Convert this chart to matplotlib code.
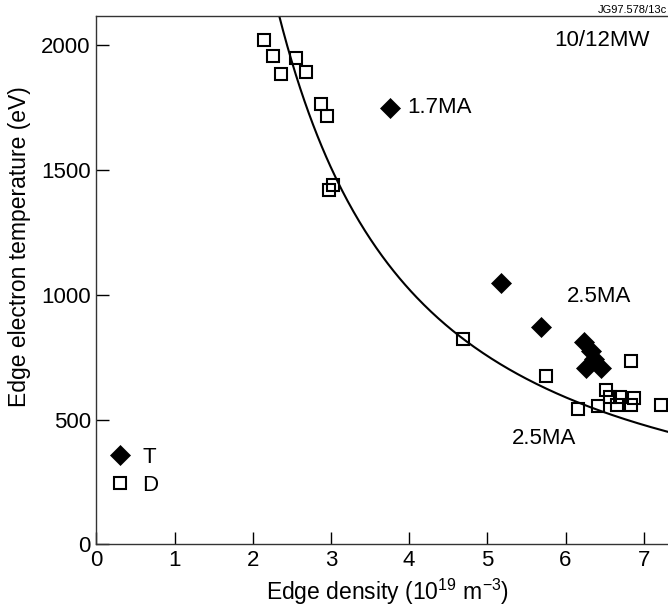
import numpy as np
import matplotlib.pyplot as plt

plt.rcParams["font.family"] = ["Liberation Sans", "DejaVu Sans"]
plt.rcParams["mathtext.fontset"] = "custom"
plt.rcParams["mathtext.rm"] = "Liberation Sans"
plt.rcParams["mathtext.it"] = "Liberation Sans:italic"

# tritium (T) shots: edge density (1e19 m^-3), edge Te (eV)
t_density = [3.75, 5.18, 5.69, 6.23, 6.32, 6.37, 6.26, 6.45]
t_temp = [1750, 1049, 871, 812, 775, 742, 706, 706]

# deuterium (D) shots
d_density = [2.15, 2.26, 2.55, 2.36, 2.68, 2.87, 2.95, 3.03, 2.98,
             4.69, 5.75, 6.84, 6.16, 7.22, 6.52, 6.57, 6.70, 6.87,
             6.41, 6.66, 6.84]
d_temp = [2024, 1956, 1951, 1887, 1894, 1767, 1718, 1439, 1420,
          822, 675, 734, 544, 559, 617, 592, 592, 586,
          556, 558, 558]

# power-law fit Te = a * n^-b
fit_a = 6710.0
fit_b = 1.357

fig = plt.figure(figsize=(6.68, 6.13), dpi=100)
ax = fig.add_axes([0.1442, 0.1119, 0.8558, 0.8615])

n = np.linspace(2.0, 7.5, 300)
ax.plot(n, fit_a * n ** (-fit_b), color="black", lw=1.5, zorder=2)

ax.plot(t_density, t_temp, linestyle="none", marker="D", ms=10,
        mfc="black", mec="black", mew=0.5, label="T", zorder=3)
ax.plot(d_density, d_temp, linestyle="none", marker="s", ms=9,
        mfc="none", mec="black", mew=1.5, label="D", zorder=3)

ax.text(3.97, 1750, "1.7MA", fontsize=16, va="center", ha="left")
ax.text(6.02, 992, "2.5MA", fontsize=16, va="center", ha="left")
ax.text(5.31, 425, "2.5MA", fontsize=16, va="center", ha="left")
ax.text(6.46, 2020, "10/12MW", fontsize=16, va="center", ha="center")

fig.text(0.998, 0.984, "JG97.578/13c", fontsize=8, ha="right", va="center")

ax.set_xlim(0, 7.31)
ax.set_ylim(0, 2117)
ax.set_xticks(range(0, 8))
ax.set_yticks([0, 500, 1000, 1500, 2000])
ax.tick_params(direction="in", length=9, width=1, labelsize=16, pad=4)

ax.spines["right"].set_visible(False)
for side in ("left", "bottom", "top"):
    ax.spines[side].set_linewidth(1.0)
    ax.spines[side].set_color("#333333")

ax.set_xlabel("Edge density (10$^{19}$ m$^{-3}$)", fontsize=16.5, va="center")
ax.set_ylabel("Edge electron temperature (eV)", fontsize=16.5, va="center")
ax.xaxis.set_label_coords(0.510, -0.090)
ax.yaxis.set_label_coords(-0.134, 0.563)

ax.legend(loc="center left", bbox_to_anchor=(0.022, 0.138), frameon=False,
          fontsize=16, handlelength=1.0, handletextpad=0.5, borderpad=0,
          borderaxespad=0, labelspacing=0.3)

fig.savefig("out.png", dpi=100)
